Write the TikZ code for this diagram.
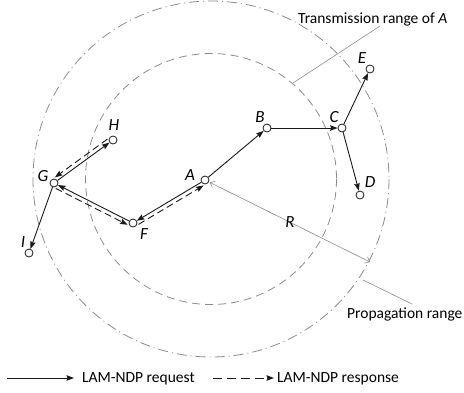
\documentclass[tikz,border=0pt]{standalone}
\usepackage{fontspec}
\setmainfont{Carlito}
\usetikzlibrary{arrows.meta, positioning, calc}
\definecolor{cgray}{HTML}{8C8C8C}
\definecolor{cdark}{HTML}{1A1A1A}

\begin{document}
\begin{tikzpicture}[x=1pt, y=-1pt,
  font=\fontsize{15.5}{18}\selectfont,
  nd/.style={circle, draw=cdark, fill=white, inner sep=0pt, minimum size=8pt, line width=0.8pt},
  lbl/.style={font=\fontsize{17}{19}\selectfont\itshape, inner sep=0pt},
  req/.style={cdark, -{Stealth[length=7.5pt,width=5.5pt,inset=1pt]}, line width=0.9pt},
  resp/.style={req, dash pattern=on 7pt off 4pt},
  rng/.style={cgray, line width=0.8pt}]
  \useasboundingbox (0,0) rectangle (464,392);

  % ranges around A
  \coordinate (ctr) at (211,179);
  \draw[rng, dash pattern=on 10pt off 4pt on 1pt off 4pt] (ctr) circle[radius=178];
  \draw[rng, dash pattern=on 8pt off 5pt] (ctr) circle[radius=125.5];

  % nodes
  \node[nd] (A) at (205,180) {};
  \node[nd] (B) at (267,128) {};
  \node[nd] (C) at (342,128) {};
  \node[nd] (E) at (370,69) {};
  \node[nd] (D) at (360,195) {};
  \node[nd] (H) at (113,140) {};
  \node[nd] (G) at (54,183) {};
  \node[nd] (F) at (133,223) {};
  \node[nd] (I) at (29,253) {};

  \node[lbl] (lA) at (190,175) {A};
  \node[lbl] (lB) at (260,117) {B};
  \node[lbl] (lC) at (334,117) {C};
  \node[lbl] (lE) at (362,58) {E};
  \node[lbl] (lD) at (370,182) {D};
  \node[lbl] (lH) at (114,125) {H};
  \node[lbl] (lG) at (43,176) {G};
  \node[lbl] (lF) at (144,234) {F};
  \node[lbl] (lI) at (23,242) {I};

  % requests
  \draw[req] (A) -- (B);
  \draw[req] (B) -- (C);
  \draw[req] (C) -- (E);
  \draw[req] (C) -- (D);
  \draw[req] (A) -- (F);
  \draw[req] (F) -- (G);
  \draw[req] (G) -- (H);
  \draw[req] (G) -- (I);

  % responses
  \draw[resp, shorten <=4pt, shorten >=4pt] ($(F.center)!4pt!-90:(A.center)$) -- ($(A.center)!4pt!90:(F.center)$);
  \draw[resp, shorten <=4pt, shorten >=4pt] ($(G.center)!4pt!-90:(F.center)$) -- ($(F.center)!4pt!90:(G.center)$);
  \draw[resp, shorten <=4pt, shorten >=4pt] ($(H.center)!4pt!-90:(G.center)$) -- ($(G.center)!4pt!90:(H.center)$);

  % radius
  \coordinate (rEnd) at (370,262);
  \draw[cgray, line width=0.6pt, {Straight Barb[length=4pt,width=7pt]}-{Straight Barb[length=4pt,width=7pt]}, shorten <=1pt] (A) -- (rEnd);
  \node[lbl] (lR) at (290,222) {R};

  % callouts
  \node[anchor=base west, inner sep=0pt] (trtxt) at (298,23) {Transmission range of \textit{A}};
  \coordinate (tr1) at (293,83);
  \coordinate (tr2) at (380,26);
  \draw[cgray, line width=0.6pt] (tr1) -- (tr2);
  \node[anchor=base west, inner sep=0pt] (prtxt) at (347,318) {Propagation range};
  \coordinate (pr1) at (363,280);
  \coordinate (pr2) at (412,304);
  \draw[cgray, line width=0.6pt] (pr1) -- (pr2);

  % legend
  \coordinate (lg1) at (7,378);
  \coordinate (lg2) at (74,378);
  \draw[req] (lg1) -- (lg2);
  \node[anchor=base west, inner sep=0pt] (lgtxt1) at (82,382) {LAM-NDP request};
  \coordinate (lg3) at (213,378);
  \coordinate (lg4) at (274,378);
  \draw[resp, dash pattern=on 9pt off 5pt] (lg3) -- (lg4);
  \node[anchor=base west, inner sep=0pt] (lgtxt2) at (277,382) {LAM-NDP response};
\end{tikzpicture}
\end{document}
